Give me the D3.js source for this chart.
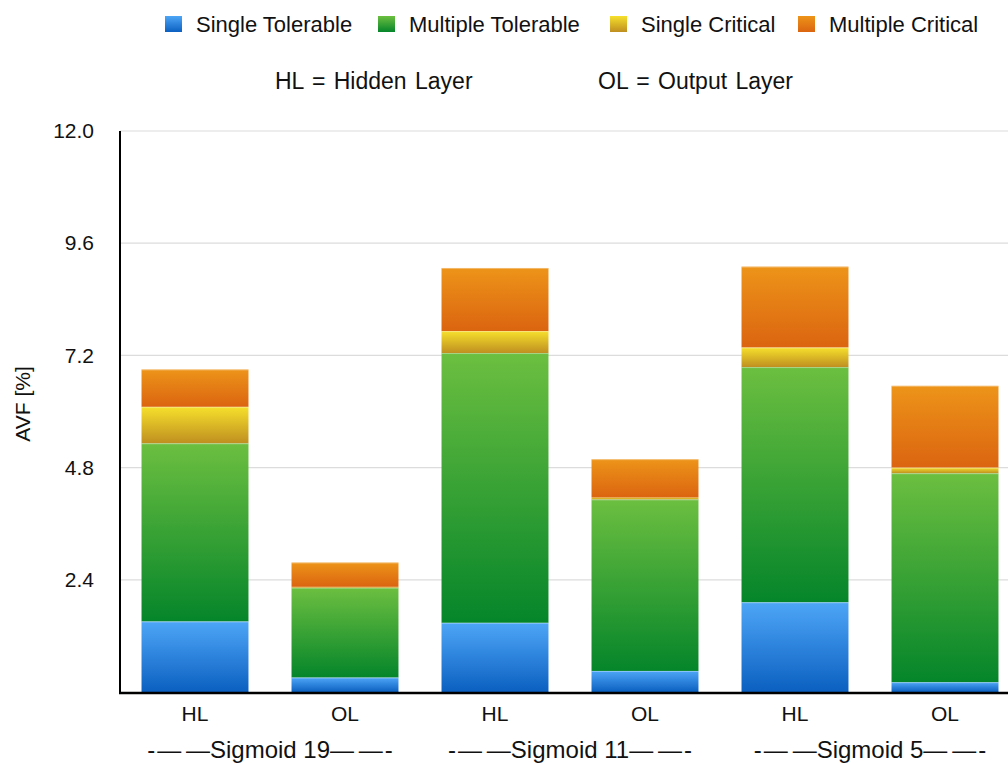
<!DOCTYPE html>
<html>
<head>
<meta charset="utf-8">
<script src="https://cdn.jsdelivr.net/npm/d3@7"></script>
<style>
  html, body { margin: 0; padding: 0; background: #fff; }
  svg { display: block; }
  text { font-family: "Liberation Sans", Arial, Helvetica, sans-serif; fill: #111; }
</style>
</head>
<body>
<svg id="chart" width="1008" height="763"></svg>
<script>
// Bar categories (layer within each network) and the network groups
const categories = ["HL", "OL", "HL", "OL", "HL", "OL"];
const groups = ["Sigmoid 19", "Sigmoid 11", "Sigmoid 5"];

// AVF contributions per bar, in percent (stacked bottom to top)
const singleTolerable   = [1.51, 0.31, 1.48, 0.45, 1.92, 0.21];
const multipleTolerable = [3.81, 1.92, 5.77, 3.67, 5.03, 4.47];
const singleCritical    = [0.78, 0.02, 0.47, 0.04, 0.42, 0.12];
const multipleCritical  = [0.80, 0.52, 1.35, 0.82, 1.73, 1.75];

const seriesNames = ["Single Tolerable", "Multiple Tolerable", "Single Critical", "Multiple Critical"];
const yTicks = [2.4, 4.8, 7.2, 9.6, 12.0];

const W = 1008, H = 763;
const m = { left: 120, right: -12, top: 131, bottom: 71 };

const svg = d3.select("#chart");
const defs = svg.append("defs");

// vertical gradients: light at the top of each segment, darker at the bottom
const gradStops = {
  "Single Tolerable":   ["#4ea6f7", "#0b60c0"],
  "Multiple Tolerable": ["#6cbf40", "#05852a"],
  "Single Critical":    ["#f6e02c", "#bf8f20"],
  "Multiple Critical":  ["#ed9419", "#db6410"]
};
seriesNames.forEach((s, i) => {
  const g = defs.append("linearGradient")
    .attr("id", "g" + i).attr("x1", 0).attr("y1", 0).attr("x2", 0).attr("y2", 1);
  g.append("stop").attr("offset", "0%").attr("stop-color", gradStops[s][0]);
  g.append("stop").attr("offset", "100%").attr("stop-color", gradStops[s][1]);
});

const rows = categories.map((c, i) => ({
  key: i, cat: c,
  "Single Tolerable": singleTolerable[i],
  "Multiple Tolerable": multipleTolerable[i],
  "Single Critical": singleCritical[i],
  "Multiple Critical": multipleCritical[i]
}));

// the plot area runs past the right edge of the canvas
const x = d3.scaleBand()
  .domain(rows.map(r => r.key))
  .range([m.left, W - m.right])
  .paddingInner(0.287).paddingOuter(0.1435);

const y = d3.scaleLinear().domain([0, 12]).range([H - m.bottom, m.top]);

// horizontal grid
svg.append("g").selectAll("line").data(yTicks).join("line")
  .attr("x1", m.left).attr("x2", W)
  .attr("y1", d => y(d)).attr("y2", d => y(d))
  .attr("stroke", "#dcdcdc").attr("stroke-width", 1.2);

// stacked bars
const stack = d3.stack().keys(seriesNames)(rows);
svg.append("g").selectAll("g").data(stack).join("g")
  .attr("fill", (d, i) => `url(#g${i})`)
  .selectAll("rect").data(d => d).join("rect")
  .attr("x", d => x(d.data.key))
  .attr("width", x.bandwidth())
  .attr("y", d => y(d[1]))
  .attr("height", d => Math.max(0, y(d[0]) - y(d[1])));

// thin highlight along the top edge of each segment
svg.append("g").selectAll("g").data(stack).join("g")
  .selectAll("line").data(d => d.filter(v => v[1] - v[0] > 0.05)).join("line")
  .attr("x1", d => x(d.data.key)).attr("x2", d => x(d.data.key) + x.bandwidth())
  .attr("y1", d => y(d[1]) + 0.5).attr("y2", d => y(d[1]) + 0.5)
  .attr("stroke", "#ffffff").attr("stroke-opacity", 0.35).attr("stroke-width", 1);

// y axis
const yAxis = d3.axisLeft(y).tickValues(yTicks).tickFormat(d3.format(".1f")).tickSize(0).tickPadding(26);
const yg = svg.append("g").attr("transform", `translate(${m.left},0)`).call(yAxis);
yg.select(".domain").remove();
yg.selectAll("text").attr("font-size", 21).attr("fill", "#111")
  .attr("font-family", "Liberation Sans, Arial, sans-serif");

// axis lines
svg.append("line").attr("x1", m.left).attr("x2", m.left)
  .attr("y1", y(12)).attr("y2", y(0) + 1)
  .attr("stroke", "#000").attr("stroke-width", 2);
svg.append("line").attr("x1", m.left - 1).attr("x2", W)
  .attr("y1", y(0) + 1).attr("y2", y(0) + 1)
  .attr("stroke", "#000").attr("stroke-width", 2.5);

// x axis category labels
const xAxis = d3.axisBottom(x).tickFormat(k => categories[k]).tickSize(0).tickPadding(12);
const xg = svg.append("g").attr("transform", `translate(0,${y(0) + 2})`).call(xAxis);
xg.select(".domain").remove();
xg.selectAll("text").attr("font-size", 21).attr("fill", "#111")
  .attr("font-family", "Liberation Sans, Arial, sans-serif");

// network group labels
svg.append("g").selectAll("text").data(groups).join("text")
  .attr("x", (g, i) => (x(2 * i) + x(2 * i + 1) + x.bandwidth()) / 2)
  .attr("y", 758)
  .attr("text-anchor", "middle")
  .attr("font-size", 24)
  .text(g => `-\u200a\u2014\u2009\u2014${g}\u2014\u2009\u2014\u200a-`);

// y axis title
svg.append("text")
  .attr("transform", "translate(30,404) rotate(-90)")
  .attr("text-anchor", "middle").attr("font-size", 21)
  .text("AVF [%]");

// legend
const legendX = [165, 378, 610, 798];
const lg = svg.append("g").selectAll("g").data(seriesNames).join("g")
  .attr("transform", (d, i) => `translate(${legendX[i]},16)`);
lg.append("rect").attr("width", 17).attr("height", 16)
  .attr("fill", (d, i) => `url(#g${i})`);
lg.append("text").attr("x", 31).attr("y", 16).attr("font-size", 22).text(d => d);

// abbreviation notes
svg.append("text").attr("x", 275).attr("y", 89).attr("font-size", 23)
  .attr("word-spacing", 2).text("HL = Hidden Layer");
svg.append("text").attr("x", 598).attr("y", 89).attr("font-size", 23)
  .attr("word-spacing", 2).text("OL = Output Layer");
</script>
</body>
</html>
